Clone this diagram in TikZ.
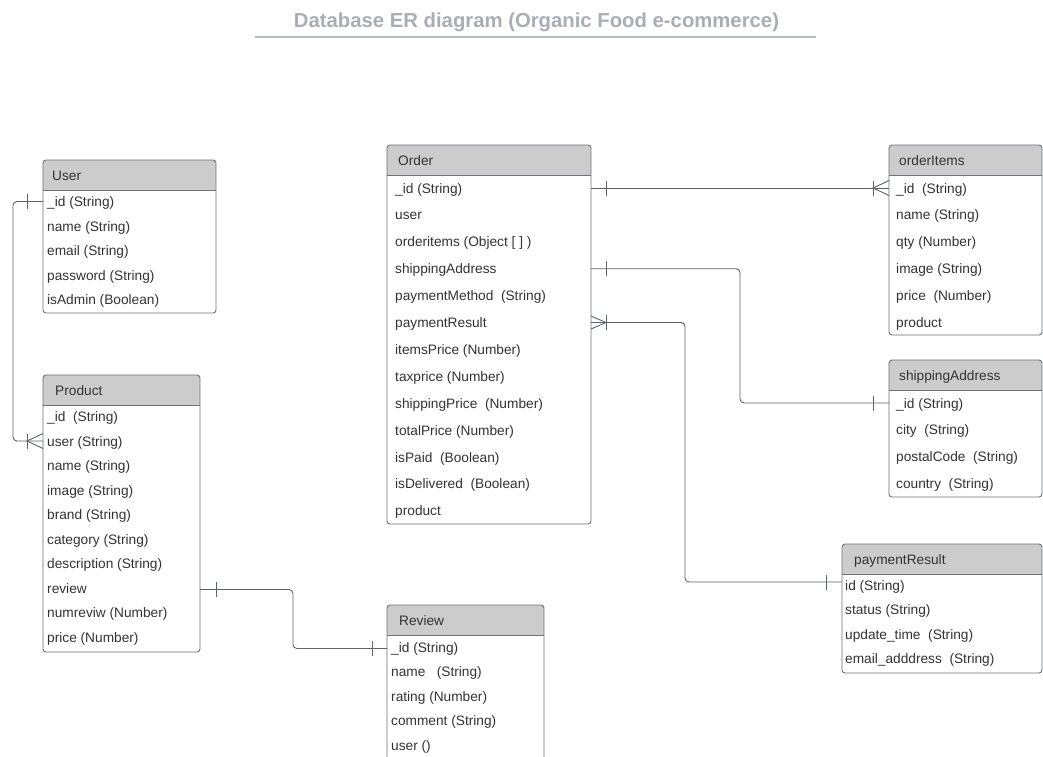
\documentclass[tikz,border=0pt]{standalone}
\usepackage{fontspec}
\setmainfont{Liberation Sans}
\usetikzlibrary{calc}
\definecolor{hdr}{HTML}{CCCCCC}
\definecolor{edgecol}{HTML}{6E7177}
\definecolor{txt}{HTML}{333333}
\definecolor{ttl}{HTML}{A9AEB6}
\definecolor{conncol}{HTML}{5F636B}
\tikzset{
  entbox/.style={draw=edgecol, line width=0.9pt, rounded corners=3pt, inner sep=0pt, outer sep=0pt},
  entline/.style={draw=edgecol, line width=0.9pt},
  htitle/.style={anchor=west, inner sep=0pt, yshift=-1.5pt, text=txt, font=\fontsize{13.7}{16}\selectfont, text height=10pt, text depth=3pt},
  field/.style={anchor=west, inner sep=0pt, yshift=-1.5pt, text=txt, font=\fontsize{13.7}{16}\selectfont, text height=10pt, text depth=3pt},
  conn/.style={draw=conncol, line width=0.9pt},
  elbow/.style={conn, rounded corners=4pt},
}
% name, x1, y1, x2, y2, header bottom, title, title x
\newcommand\entity[8]{%
  \begin{scope}
    \clip[rounded corners=3pt] (#2,#3) rectangle (#4,#5);
    \fill[hdr] (#2,#3) rectangle (#4,#6);
  \end{scope}
  \node[entbox, minimum width={#4-#2}, minimum height={#5-#3}, anchor=north west] (#1) at (#2,#3) {};
  \draw[entline] (#2,#6) -- (#4,#6);
  \node[htitle] (#1-t) at (#8,{(#3+#6)/2}) {#7};
}
% name, x, first row y, row step, list
\newcommand\fields[5]{%
  \foreach \t [count=\i] in {#5} {
    \node[field] (#1-\i) at (#2,{#3+#4*(\i-1)}) {\t};
  }
}
\begin{document}
\begin{tikzpicture}[x=1pt,y=-1pt]
\useasboundingbox (0,0) rectangle (1043,756);
\clip (0,0) rectangle (1043,756);
\fill[white] (0,0) rectangle (1043,756);

% title
\node[inner sep=0pt, text=ttl, font=\bfseries\fontsize{20.3}{24}\selectfont] (title) at (536.5,22.5) {Database ER diagram (Organic Food e-commerce)};
\coordinate (ul1) at (255,37);
\coordinate (ul2) at (816,37);
\draw[draw=ttl!85, line width=1.6pt] (ul1) -- (ul2);

% entities
\entity{user}{43}{160}{216}{313}{190.5}{User}{52}
\fields{user}{47}{201.5}{24.6}{{\_id (String)},{name (String)},{email (String)},{password (String)},{isAdmin (Boolean)}}

\entity{order}{387}{145}{591}{524}{175}{Order}{398}
\fields{order}{395}{188}{26.9}{{\_id (String)},{user},{orderitems (Object [ ] )},{shippingAddress},{paymentMethod~ (String)},{paymentResult},{itemsPrice (Number)},{taxprice (Number)},{shippingPrice~ (Number)},{totalPrice (Number)},{isPaid~ (Boolean)},{isDelivered~ (Boolean)},{product}}

\entity{oitems}{889}{145}{1042}{335}{175}{orderItems}{899}
\fields{oitems}{896}{188}{26.9}{{\_id~ (String)},{name (String)},{qty (Number)},{image (String)},{price~ (Number)},{product}}

\entity{ship}{889}{360}{1042}{497}{390}{shippingAddress}{899}
\fields{ship}{896}{403}{26.9}{{\_id (String)},{city~ (String)},{postalCode~ (String)},{country~ (String)}}

\entity{pay}{842}{544}{1042}{673}{574}{paymentResult}{854}
\fields{pay}{845}{585}{24.5}{{id (String)},{status (String)},{update\_time~ (String)},{email\_adddress~ (String)}}

\entity{product}{43}{375}{200}{652}{405.5}{Product}{55}
\fields{product}{47}{416.5}{24.5}{{\_id~ (String)},{user (String)},{name (String)},{image (String)},{brand (String)},{category (String)},{description (String)},{review},{numreviw (Number)},{price (Number)}}

\entity{review}{387}{605}{544}{780}{635.5}{Review}{399}
\fields{review}{391}{647}{24.5}{{\_id (String)},{name~~ (String)},{rating (Number)},{comment (String)},{user ()}}

% User -- Product
\coordinate (a1) at ($(user.west |- user-1)+(0,-1.5)$);
\coordinate (a2) at ($(product.west |- product-2)+(0,-1.5)$);
\coordinate (ax) at (13,0);
\draw[elbow] (a1) -| (ax |- a2) -- (a2);
\draw[conn] ($(a1)+(-16,-7.5)$) -- ++(0,15);
\draw[conn] ($(a2)+(-16,-7.5)$) -- ++(0,15);
\draw[conn] ($(a2)+(0,-7.5)$) -- ++(-16,7.5) -- ++(16,7.5);

% Order -- orderItems
\coordinate (b1) at ($(order.east |- order-1)+(0,-1.5)$);
\coordinate (b2) at ($(oitems.west |- oitems-1)+(0,-1.5)$);
\draw[conn] (b1) -- (b2);
\draw[conn] ($(b1)+(15,-7.5)$) -- ++(0,15);
\draw[conn] ($(b2)+(-16,-7.5)$) -- ++(0,15);
\draw[conn] ($(b2)+(0,-7.5)$) -- ++(-16,7.5) -- ++(16,7.5);

% Order -- shippingAddress
\coordinate (c1) at ($(order.east |- order-4)+(0,-1.5)$);
\coordinate (c2) at ($(ship.west |- ship-1)+(0,-1.5)$);
\coordinate (cx) at (740,0);
\draw[elbow] (c1) -| (cx |- c2) -- (c2);
\draw[conn] ($(c1)+(15,-7.5)$) -- ++(0,15);
\draw[conn] ($(c2)+(-16,-7.5)$) -- ++(0,15);

% Order -- paymentResult
\coordinate (d1) at ($(order.east |- order-6)+(0,-1.5)$);
\coordinate (d2) at ($(pay.west |- pay-1)+(0,-4.5)$);
\coordinate (dx) at (685,0);
\draw[elbow] (d1) -| (dx |- d2) -- (d2);
\draw[conn] ($(d1)+(0,-6.5)$) -- ++(15,6.5) -- ++(-15,6.5);
\draw[conn] ($(d1)+(15,-7.5)$) -- ++(0,15);
\draw[conn] ($(d2)+(-16,-7.5)$) -- ++(0,15);

% Product -- Review
\coordinate (e1) at ($(product.east |- product-8)+(0,0)$);
\coordinate (e2) at ($(review.west |- review-1)+(0,0)$);
\coordinate (ex) at (293,0);
\draw[elbow] (e1) -| (ex |- e2) -- (e2);
\draw[conn] ($(e1)+(16,-7.5)$) -- ++(0,15);
\draw[conn] ($(e2)+(-15,-7.5)$) -- ++(0,15);
\end{tikzpicture}
\end{document}
